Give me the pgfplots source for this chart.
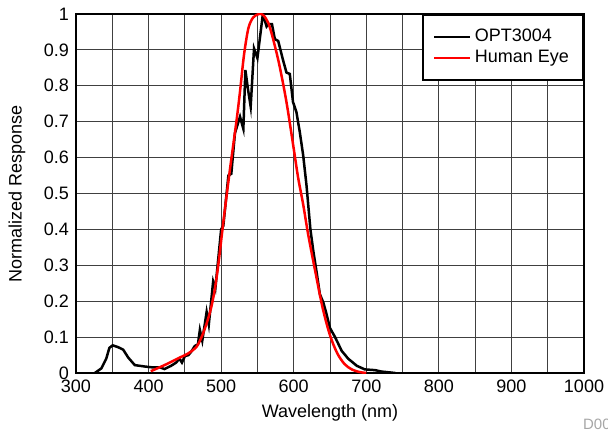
\documentclass[border=0pt]{standalone}
\usepackage{fontspec}
\setmainfont{Liberation Sans}
\usepackage{pgfplots}
\pgfplotsset{compat=1.18}
\newcommand{\chartfont}{\fontsize{9}{11}\selectfont}

\begin{document}
\begin{tikzpicture}
\begin{axis}[
  name=ax,
  scale only axis,
  width=254pt, height=179.5pt,
  xmin=300, xmax=1000, ymin=0, ymax=1,
  xtick={300,400,500,600,700,800,900,1000},
  minor xtick={350,450,550,650,750,850,950},
  ytick={0,0.1,0.2,0.3,0.4,0.5,0.6,0.7,0.8,0.9,1},
  grid=both,
  major grid style={black!75, line width=0.45pt},
  minor grid style={black!75, line width=0.45pt},
  major tick length=0pt, minor tick length=0pt,
  axis line style={line width=1pt},
  /pgf/number format/assume math mode=true,
  xticklabel style={font=\chartfont, /pgf/number format/1000 sep={}},
  yticklabel style={font=\chartfont, /pgf/number format/fixed, /pgf/number format/precision=1},
  xlabel={Wavelength (nm)},
  ylabel={Normalized Response},
  xlabel style={font=\chartfont, at={(axis description cs:0.5,-0.1114)}, anchor=center},
  ylabel style={font=\chartfont, at={(axis description cs:-0.1161,0.5)}, anchor=center},
  legend style={font=\chartfont, at={(1,1)}, anchor=north east, draw=black, line width=1pt,
    inner xsep=5pt, inner ysep=5pt, row sep=-1pt},
  legend cell align=left,
  legend image code/.code={\draw[#1, line width=1.1pt] (0cm,0cm) -- (0.63cm,0cm);},
]
% OPT3004 response
\addplot[black, line width=1.25pt] coordinates {
(326,0) (335,0.013) (341.7,0.04) (346,0.07) (350.5,0.077) (358,0.072) (365,0.065)
(372,0.043) (381,0.022) (395,0.018) (404,0.016) (415,0.016) (422,0.011) (431,0.02)
(438,0.029) (442.5,0.04) (446,0.029) (450,0.047) (455,0.05) (459,0.06) (463.6,0.075)
(468,0.08) (470.7,0.12) (474,0.09) (480,0.17) (483,0.135) (489,0.255) (492,0.235)
(500,0.40) (503,0.41) (510,0.55) (514,0.555) (519,0.668) (526,0.714) (530.6,0.68)
(533.4,0.844) (537,0.79) (540.7,0.742) (545.3,0.904) (550,0.877) (557.5,1.0)
(562.7,0.965) (566,0.972) (570,0.972) (574,0.93) (578.6,0.925) (585.5,0.87)
(590,0.837) (594.6,0.833) (599,0.755) (603.7,0.727) (608.3,0.672) (613,0.607)
(617.6,0.523) (623,0.4) (627,0.34) (631.6,0.28) (636,0.22) (641,0.195) (645,0.166)
(650,0.125) (657,0.10) (666,0.062) (675,0.04) (687,0.02) (698,0.01) (712,0.008)
(721,0.004) (740,0)
};
\addlegendentry{OPT3004}
% Human eye
\addplot[red, line width=1.25pt, smooth, tension=0.5] coordinates {
(403,0.005) (422,0.022) (441,0.041) (455,0.055) (466,0.073) (473,0.10) (480,0.138)
(486,0.18) (491,0.23) (496,0.30) (503,0.42) (512,0.565) (521,0.70) (526,0.784)
(531.5,0.886) (537.5,0.96) (544,0.99) (552,1.0) (558,0.997) (565,0.975) (571,0.935)
(580,0.86) (590,0.755) (600,0.625) (606,0.545) (613,0.47) (620,0.385) (630,0.28)
(640,0.18) (650,0.105) (660,0.055) (670,0.025) (680,0.01) (690,0.003) (700,0)
};
\addlegendentry{Human Eye}
\end{axis}
\node[anchor=west, text=black!35, font=\fontsize{7.5}{9}\selectfont]
  at ([shift={(250pt,-25.5pt)}]ax.south west) {D001};
\pgfresetboundingbox
\path[use as bounding box] ([shift={(-38pt,-30pt)}]ax.south west) rectangle ([shift={(266pt,186.5pt)}]ax.south west);
\end{tikzpicture}
\end{document}
